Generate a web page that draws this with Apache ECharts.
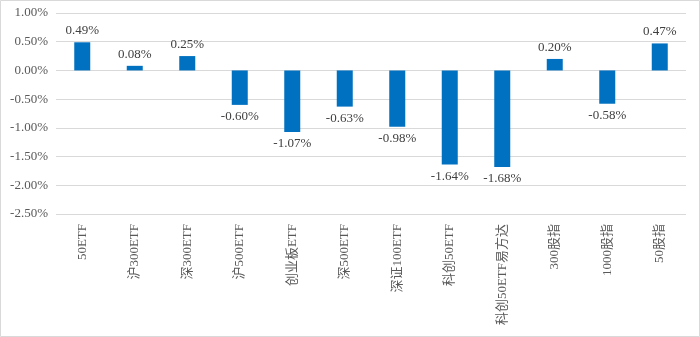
<!DOCTYPE html>
<html>
<head>
<meta charset="utf-8">
<script src="https://cdn.jsdelivr.net/npm/echarts@6/dist/echarts.min.js"></script>
<style>
  html, body { margin: 0; padding: 0; background: #fff; }
  #chart { width: 700px; height: 337px; }
</style>
</head>
<body>
<div id="chart"></div>
<script>
// Daily change by product (percent)
const categories = ['50ETF', '沪300ETF', '深300ETF', '沪500ETF', '创业板ETF', '深500ETF', '深证100ETF', '科创50ETF', '科创50ETF易方达', '300股指', '1000股指', '50股指'];
const changes = [0.49, 0.08, 0.25, -0.60, -1.07, -0.63, -0.98, -1.64, -1.68, 0.20, -0.58, 0.47];

const serif = "'Liberation Serif', 'Times New Roman', 'Noto Sans CJK SC', serif";

const chart = echarts.init(document.getElementById('chart'), null, { renderer: 'canvas' });
chart.setOption({
  animation: false,
  backgroundColor: '#ffffff',
  graphic: [{
    type: 'rect',
    shape: { x: 0.5, y: 0.5, width: 699, height: 336 },
    style: { fill: 'none', stroke: '#d9d9d9', lineWidth: 1 },
    silent: true
  }],
  grid: { left: 56, right: 14, top: 13, bottom: 123 },
  xAxis: {
    type: 'category',
    data: categories,
    position: 'bottom',
    axisLine: { show: false },
    axisTick: { show: false },
    axisLabel: {
      rotate: 90,
      margin: 10,
      interval: 0,
      fontFamily: serif,
      fontSize: 13,
      color: '#595959'
    }
  },
  yAxis: {
    type: 'value',
    min: -2.5,
    max: 1.0,
    interval: 0.5,
    axisLine: { show: false },
    axisTick: { show: false },
    splitLine: { lineStyle: { color: '#d9d9d9', width: 1 } },
    axisLabel: {
      margin: 8,
      fontFamily: serif,
      fontSize: 13,
      color: '#595959',
      formatter: v => v.toFixed(2) + '%'
    }
  },
  series: [{
    type: 'bar',
    data: changes.map(v => ({
      value: v,
      label: { position: v >= 0 ? 'top' : 'bottom' }
    })),
    barWidth: 16,
    itemStyle: { color: '#0070C0' },
    label: {
      show: true,
      distance: 5,
      fontFamily: serif,
      fontSize: 13,
      color: '#404040',
      formatter: p => p.value.toFixed(2) + '%'
    }
  }]
});
</script>
</body>
</html>
